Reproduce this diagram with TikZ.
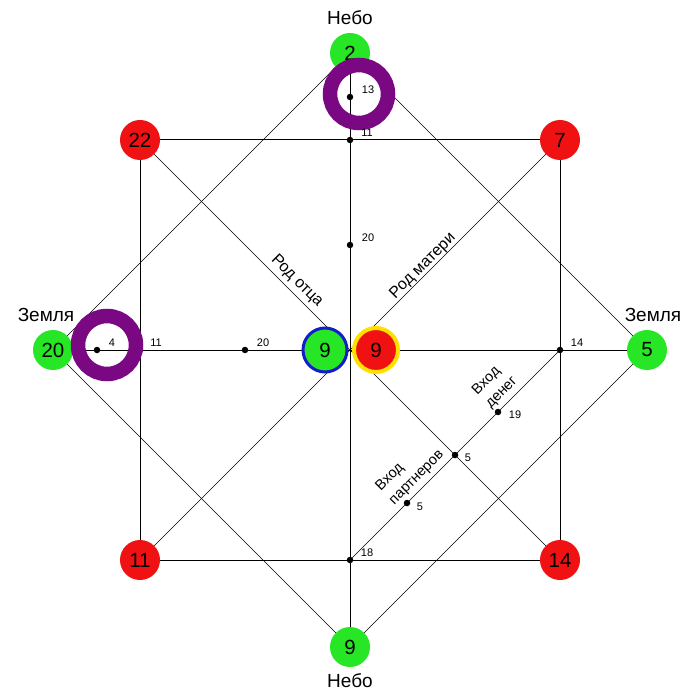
\documentclass[tikz,border=0pt]{standalone}
\usepackage{fontspec}
\setmainfont{Liberation Sans}
\usetikzlibrary{calc,backgrounds}
\definecolor{cgreen}{RGB}{38,230,38}
\definecolor{cred}{RGB}{240,18,18}
\definecolor{cpurple}{RGB}{122,8,130}
\definecolor{cblue}{RGB}{20,30,200}
\definecolor{cyellow}{RGB}{255,225,0}
\begin{document}
\begin{tikzpicture}[x=1pt,y=-1pt,
  thickline/.style={line width=1pt},
  thinline/.style={line width=0.6pt},
  numfont/.style={font=\fontsize{20.5}{24}\selectfont},
  gnode/.style={circle,fill=cgreen,minimum size=40pt,inner sep=0pt,numfont},
  rnode/.style={circle,fill=cred,minimum size=40pt,inner sep=0pt,numfont},
  dotn/.style={circle,fill=black,minimum size=6.5pt,inner sep=0pt},
  small/.style={font=\fontsize{11}{13}\selectfont,inner sep=0pt},
  bigtext/.style={font=\fontsize{19}{22}\selectfont,inner sep=0pt},
  rodtext/.style={font=\fontsize{16}{19}\selectfont,inner sep=0pt},
  vhodtext/.style={font=\fontsize{14.5}{19}\selectfont,inner sep=0pt,align=left},
  ring/.style={draw=cpurple,line width=14.5pt}]
\useasboundingbox (0,0) rectangle (700,700);
% main circles
\node[gnode] (n2) at (350,53) {2};
\node[gnode] (n9b) at (350,647) {9};
\node[gnode] (n20) at (53,350) {20};
\node[gnode] (n5) at (647,350) {5};
\node[rnode] (n22) at (140,140) {22};
\node[rnode] (n7) at (560,140) {7};
\node[rnode] (n11) at (140,560) {11};
\node[rnode] (n14) at (560,560) {14};
\node[gnode,draw=cblue,line width=3pt,minimum size=44pt] (cf) at (325,350) {9};
\node[rnode,draw=cyellow,line width=4pt,minimum size=44pt] (cm) at (376,350) {9};
% dots
\node[dotn] (d13) at (350,97) {};
\node[dotn] (d11t) at (350,140) {};
\node[dotn] (d20v) at (350,245) {};
\node[dotn] (d4) at (97,350) {};
\node[dotn] (d11l) at (140,350) {};
\node[dotn] (d20h) at (245,350) {};
\node[dotn] (d14) at (560,350) {};
\node[dotn] (d18) at (350,560) {};
\node[dotn] (dp) at (407,503) {};
\node[dotn] (dx) at (455,455) {};
\node[dotn] (dm) at (498,412) {};
% connectors
\begin{scope}[on background layer]
\fill[white] (0,0) rectangle (700,700);
\draw[thickline] (n22.center) -- (n7.center) -- (n14.center) -- (n11.center) -- cycle;
\draw[thickline] (n2.center) -- (n9b.center);
\draw[thickline] (n20.center) -- (n5.center);
\draw[thinline] (n2.center) -- (n20.center) -- (n9b.center) -- (n5.center) -- cycle;
\draw[thinline] (n22.center) -- (n14.center);
\draw[thinline] (n7.center) -- (n11.center);
\draw[thinline] (d18.center) -- (d14.center);
\end{scope}
% rings
\draw[ring] (359,94) circle[radius=29];
\draw[ring] (107,345) circle[radius=29];
% small labels
\node[small] at ($(d13)+(18,-7)$) {13};
\node[small] at ($(d11t)+(17,-7)$) {11};
\node[small] at ($(d20v)+(18,-7)$) {20};
\node[small] at ($(d4)+(15,-7)$) {4};
\node[small] at ($(d11l)+(16,-7)$) {11};
\node[small] at ($(d20h)+(18,-7)$) {20};
\node[small] at ($(d14)+(17,-7)$) {14};
\node[small] at ($(d18)+(17,-7)$) {18};
\node[small] at ($(dp)+(13,4)$) {5};
\node[small] at ($(dx)+(13,3)$) {5};
\node[small] at ($(dm)+(17,3)$) {19};
% big labels
\node[bigtext] (tnebo) at (350,18) {Небо};
\node[bigtext] (bnebo) at (350,681) {Небо};
\node[bigtext] (lzem) at (46,315) {Земля};
\node[bigtext] (rzem) at (653,315) {Земля};
\node[rodtext,rotate=-45] (rotca) at (297,281) {Род отца};
\node[rodtext,rotate=45] (rmat) at (423,266) {Род матери};
\node[vhodtext,rotate=45] (vden) at (495,386) {Вход\\денег};
\node[vhodtext,rotate=45] (vpar) at (410,471) {Вход\\партнеров};
\end{tikzpicture}
\end{document}
